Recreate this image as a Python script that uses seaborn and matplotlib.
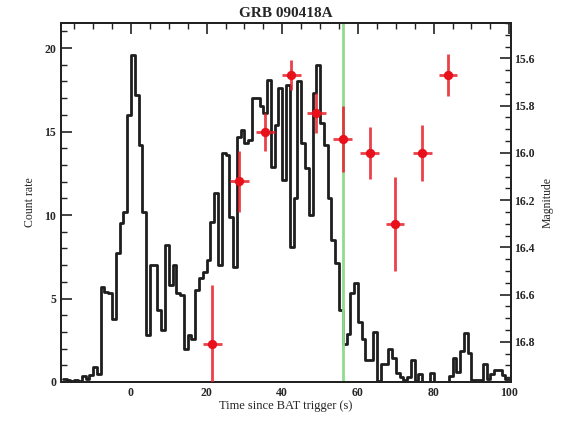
import numpy as np
import pandas as pd
import matplotlib
matplotlib.use("Agg")
import matplotlib.pyplot as plt
import seaborn as sns
from matplotlib.ticker import MultipleLocator

# ---------------- data ----------------
# BAT light curve: 1-s bins starting at t = -18 s
bin_start = -18
bin_width = 1.0
count_rate = [
    0.15, 0.1, 0.05, 0.1, 0.05, 0.35, 0.15, 0.4, 0.9, 0.5,      # -18 .. -9
    5.7, 5.4, 5.3, 3.8, 7.7, 9.5, 10.2, 16.0, 19.6, 17.2,       # -8 .. 1
    14.2, 10.2, 2.8, 7.0, 7.0, 4.3, 3.1, 8.2, 5.8, 7.0,         # 2 .. 11
    5.3, 5.2, 2.0, 2.8, 2.6, 5.5, 6.2, 6.6, 7.3, 9.6,           # 12 .. 21
    11.3, 7.0, 13.7, 13.6, 9.9, 6.9, 14.7, 15.1, 14.3, 14.5,    # 22 .. 31
    17.0, 17.0, 16.5, 16.1, 18.1, 12.9, 15.4, 17.6, 12.1, 17.8, # 32 .. 41
    8.1, 11.0, 18.0, 14.3, 12.8, 10.0, 17.3, 19.0, 15.5, 14.2,  # 42 .. 51
    11.0, 8.5, 7.1, 4.3, 2.3, 2.9, 5.3, 5.9, 3.6, 2.6,          # 52 .. 61
    1.3, 1.3, 3.0, 0.05, 1.1, 1.1, 2.0, 1.45, 0.55, 0.3,        # 62 .. 71
    0.1, 0.3, 1.3, 0.05, 0.5, 0.0, 0.0, 0.55, 0.0, 0.0,         # 72 .. 81
    0.0, 0.0, 0.35, 1.45, 0.6, 1.85, 2.95, 1.75, 0.1, 0.1,      # 82 .. 91
    0.1, 1.1, 0.2, 0.5, 0.7, 0.7, 0.4, 0.2,                     # 92 .. 99
]

# Optical magnitudes
mag_time = [21.5, 28.6, 35.5, 42.4, 49.0, 56.0, 63.1, 69.8, 77.0, 83.8]
mag_value = [16.81, 16.12, 15.91, 15.67, 15.83, 15.94, 16.00, 16.30, 16.00, 15.67]
mag_err = [0.25, 0.13, 0.08, 0.065, 0.085, 0.14, 0.11, 0.20, 0.12, 0.09]
time_err = [2.5, 2.5, 2.5, 2.5, 2.5, 2.5, 2.5, 2.5, 2.5, 2.5]

trigger_line = 56.0

title = "GRB 090418A"
xlabel = "Time since BAT trigger (s)"
ylabel_left = "Count rate"
ylabel_right = "Magnitude"

# ---------------- plot ----------------
sns.set_style("white")
plt.rcParams["font.family"] = ["Liberation Serif", "DejaVu Serif"]

n = len(count_rate)
edges = bin_start + bin_width * np.arange(n + 1)
# step line: each bin's value held from its left edge to the next edge
lc = pd.DataFrame({"t": edges, "rate": list(count_rate) + [count_rate[-1]]})
mag = pd.DataFrame({"t": mag_time, "mag": mag_value, "dm": mag_err, "dt": time_err})

fig = plt.figure(figsize=(5.62, 4.26), dpi=100)
ax = fig.add_axes([0.1085, 0.1033, 0.801, 0.8427])

sns.lineplot(data=lc, x="t", y="rate", drawstyle="steps-post", sort=False,
             estimator=None, color="#1e1e1e", linewidth=2.0, ax=ax)

ax.axvline(trigger_line, color="#8fdc8f", linewidth=2.0, zorder=3)

ax.set_xlim(-18.5, 100.5)
ax.set_ylim(0, 21.5)
ax.xaxis.set_major_locator(MultipleLocator(20))
ax.xaxis.set_minor_locator(MultipleLocator(5))
ax.yaxis.set_major_locator(MultipleLocator(5))
ax.yaxis.set_minor_locator(MultipleLocator(1))
ax.tick_params(axis="both", which="both", direction="in", top=True, right=False,
               color="#222222")
ax.tick_params(axis="both", which="major", length=8, width=1.2, labelsize=8.5)
ax.tick_params(axis="both", which="minor", length=4, width=1.0)
for lbl in ax.get_xticklabels() + ax.get_yticklabels():
    lbl.set_fontweight("bold")
ax.set_xlabel(xlabel, fontsize=9, labelpad=1)
ax.set_ylabel(ylabel_left, fontsize=8.5, labelpad=6)
ax.set_title(title, fontsize=11, fontweight="bold", pad=4)

ax2 = ax.twinx()
ax2.errorbar(mag["t"], mag["mag"], yerr=mag["dm"], xerr=mag["dt"], fmt="none",
             ecolor="#e8202a", elinewidth=2.0, capsize=0, alpha=0.85, zorder=4)
sns.scatterplot(data=mag, x="t", y="mag", color="#e8101a", s=45, edgecolor="#e8101a",
                linewidth=0, zorder=5, ax=ax2)
ax2.set_ylim(16.97, 15.45)
ax2.yaxis.set_major_locator(MultipleLocator(0.2))
ax2.yaxis.set_minor_locator(MultipleLocator(0.05))
ax2.yaxis.set_major_formatter(matplotlib.ticker.FormatStrFormatter("%.1f"))
ax2.tick_params(axis="y", which="both", direction="in", color="#222222")
ax2.tick_params(axis="y", which="major", length=8, width=1.2, labelsize=8.5, pad=2)
ax2.tick_params(axis="y", which="minor", length=4, width=1.0)
for lbl in ax2.get_yticklabels():
    lbl.set_fontweight("bold")
ax2.set_ylabel(ylabel_right, fontsize=8.5, labelpad=5)
ax2.set_xlabel("")

for a in (ax, ax2):
    for s in a.spines.values():
        s.set_linewidth(1.4)
        s.set_color("#222222")

fig.savefig("out.png", dpi=100)
